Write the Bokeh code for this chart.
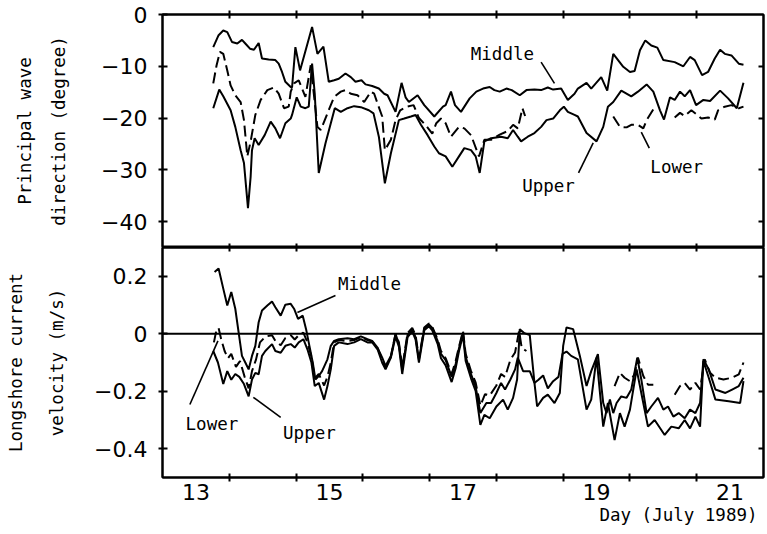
import math
from bokeh.plotting import figure
from bokeh.models import Range1d, LinearAxis, FixedTicker, Span, Label, Arrow, Title
from bokeh.layouts import column
from bokeh.embed import file_html
from bokeh.resources import INLINE

# ---------------- data ----------------
# Principal wave direction (degree) at the three sensors
mid_dir_day = [13.26, 13.34, 13.41, 13.47, 13.54, 13.62, 13.69, 13.74, 13.81, 13.87, 13.94, 13.99,
               14.09, 14.19, 14.24, 14.29, 14.34, 14.42, 14.44, 14.49, 14.56, 14.74, 14.82, 14.91,
               14.99, 15.07, 15.14, 15.24, 15.32, 15.39, 15.48, 15.54, 15.64, 15.74, 15.82, 15.87,
               15.99, 16.08, 16.14, 16.19, 16.32, 16.42, 16.57, 16.70, 16.74, 16.82, 16.88, 16.97,
               17.10, 17.20, 17.30, 17.40, 17.47, 17.55, 17.65, 17.73, 17.85, 17.95, 18.07, 18.17,
               18.27, 18.35, 18.47, 18.57, 18.67, 18.72, 18.85, 18.92, 19.07, 19.16, 19.25, 19.40,
               19.50, 19.57, 19.65, 19.73, 19.82, 19.91, 20.00, 20.17, 20.30, 20.40, 20.47, 20.58,
               20.67, 20.77, 20.85, 20.92, 21.02, 21.13, 21.20]
mid_dir = [-6.3, -4.0, -3.1, -3.4, -5.3, -5.6, -4.9, -5.6, -6.6, -6.8, -5.5, -8.5,
           -8.7, -8.8, -9.5, -11.1, -13.0, -14.0, -14.1, -6.3, -10.8, -2.4, -7.6, -6.2,
           -13.0, -12.7, -12.4, -11.4, -12.1, -13.0, -12.7, -13.5, -13.8, -14.3, -15.3, -15.6,
           -18.8, -13.2, -16.0, -16.9, -15.6, -17.5, -19.7, -17.8, -17.5, -14.9, -17.5, -18.8,
           -16.2, -14.9, -14.3, -14.0, -14.6, -14.9, -14.3, -14.6, -15.6, -14.6, -14.5, -14.6,
           -14.1, -14.5, -14.3, -16.5, -15.3, -14.3, -13.2, -14.3, -12.1, -14.7, -7.6, -10.1,
           -11.1, -10.9, -6.9, -5.0, -6.0, -6.4, -8.8, -9.2, -10.0, -8.2, -8.8, -11.7,
           -11.1, -8.5, -6.8, -7.6, -7.9, -9.5, -9.7]

upp_dir_day = [13.26, 13.35, 13.41, 13.52, 13.59, 13.67, 13.72, 13.78, 13.82, 13.84, 13.88, 13.94,
               14.03, 14.12, 14.19, 14.26, 14.34, 14.42, 14.44, 14.51, 14.57, 14.64, 14.69, 14.74,
               14.78, 14.84, 14.94, 15.08, 15.17, 15.27, 15.37, 15.47, 15.59, 15.66, 15.74, 15.83,
               15.92, 16.04, 16.12, 16.22, 16.29, 16.37, 16.47, 16.57, 16.64, 16.74, 16.84, 16.94,
               17.02, 17.12, 17.19, 17.25, 17.32, 17.42, 17.57, 17.67, 17.75, 17.82, 17.87, 17.97,
               18.07, 18.17, 18.25, 18.35, 18.45, 18.51, 18.57, 18.67, 18.72, 18.85, 19.00, 19.10,
               19.17, 19.25, 19.37, 19.52, 19.62, 19.75, 19.85, 19.95, 20.01, 20.10, 20.17, 20.25,
               20.32, 20.40, 20.49, 20.60, 20.70, 20.85, 20.97, 21.10, 21.20]
upp_dir = [-18.1, -14.5, -15.8, -18.5, -21.7, -26.2, -28.7, -37.4, -31.3, -26.2, -23.9, -25.2,
           -23.3, -20.7, -22.0, -23.9, -21.0, -20.1, -19.4, -16.0, -17.8, -18.1, -17.8, -9.5,
           -15.3, -30.6, -24.9, -18.1, -18.8, -18.1, -17.7, -17.9, -18.5, -19.1, -23.6, -32.6,
           -26.8, -20.4, -20.1, -19.7, -19.4, -21.3, -23.3, -25.5, -26.8, -27.4, -29.4, -27.4,
           -25.8, -26.2, -27.4, -30.6, -24.5, -23.9, -23.6, -23.9, -22.3, -23.6, -24.5, -23.6,
           -22.9, -21.7, -20.4, -20.1, -18.5, -17.8, -18.8, -19.4, -19.7, -22.9, -24.5, -21.7,
           -17.8, -16.9, -14.7, -15.8, -14.9, -13.5, -14.9, -18.5, -20.3, -16.0, -16.5, -14.9,
           -15.8, -14.6, -17.5, -16.5, -16.7, -14.7, -16.2, -18.1, -13.2]

low_dir_day = [13.26, 13.31, 13.36, 13.41, 13.47, 13.52, 13.59, 13.67, 13.72, 13.77, 13.82, 13.89,
               13.97, 14.07, 14.17, 14.24, 14.32, 14.39, 14.42, 14.47, 14.54, 14.64, 14.72, 14.76,
               14.82, 14.87, 14.97, 15.07, 15.17, 15.24, 15.32, 15.42, 15.52, 15.62, 15.67, 15.72,
               15.79, 15.83, 15.92, 15.99, 16.06, 16.16, 16.26, 16.34, 16.45, 16.54, 16.60, 16.67,
               16.74, 16.82, 16.94, 17.02, 17.12, 17.24, 17.32, 17.42, 17.55, 17.67, 17.75, 17.82,
               17.89, 17.93, 18.50,
               19.25, 19.35, 19.45, 19.52, 19.62, 19.70, 19.75, 19.85, 20.00,
               20.17, 20.25, 20.32, 20.42, 20.51, 20.57, 20.67, 20.77, 20.82, 20.92, 21.02, 21.13,
               21.20]
low_dir = [-13.3, -9.8, -7.2, -7.6, -10.8, -13.7, -15.6, -16.9, -20.4, -27.4, -24.5, -19.4,
           -16.5, -14.6, -14.1, -15.3, -18.1, -17.8, -14.9, -13.3, -12.7, -15.9, -9.8, -14.6,
           -21.7, -22.3, -19.1, -15.9, -14.9, -14.6, -15.3, -15.6, -16.9, -14.9, -15.3, -17.2,
           -19.7, -26.2, -24.2, -20.4, -18.5, -17.8, -17.5, -20.0, -21.5, -23.0, -21.0, -20.1,
           -21.0, -23.6, -21.7, -22.0, -23.3, -27.4, -24.2, -24.2, -23.2, -22.5, -21.3, -22.0,
           -18.1, -19.6, float("nan"),
           -19.7, -21.7, -21.8, -21.3, -21.3, -22.0, -20.4, -18.3, float("nan"),
           -19.9, -19.0, -19.6, -18.5, -19.4, -20.1, -19.9, -20.3, -18.5, -17.8, -17.5, -18.1,
           -17.8]

# Longshore current velocity (m/s) at the three sensors
mid_vel_day = [13.28, 13.34, 13.41, 13.47, 13.53, 13.59, 13.64, 13.69, 13.74, 13.79, 13.84, 13.89,
               13.94, 13.99, 14.07, 14.14, 14.19, 14.27, 14.34, 14.42, 14.47, 14.53, 14.60, 14.65,
               14.70, 14.75, 14.79, 14.84, 14.89, 14.97, 15.02, 15.07, 15.14, 15.27, 15.37, 15.47,
               15.57, 15.64, 15.72, 15.79, 15.84, 15.92, 15.99, 16.04, 16.09, 16.17, 16.24, 16.29,
               16.34, 16.42, 16.49, 16.54, 16.62, 16.67, 16.74, 16.83, 16.89, 16.94, 17.00, 17.04,
               17.12, 17.19, 17.26, 17.35, 17.42, 17.50, 17.57, 17.63, 17.71, 17.78, 17.82, 17.90,
               18.00, 18.07, 18.13, 18.20, 18.27, 18.35, 18.43, 18.49, 18.55, 18.62, 18.72, 18.85,
               18.92, 19.00, 19.10, 19.17, 19.27, 19.35, 19.42, 19.50, 19.60, 19.67, 19.77, 19.87,
               20.02, 20.12, 20.23, 20.32, 20.40, 20.48, 20.55, 20.60, 20.68, 20.78, 20.98, 21.15,
               21.20]
mid_vel = [0.215, 0.227, 0.157, 0.098, 0.145, 0.087, 0.005, -0.077, -0.100, -0.124, -0.077, -0.042,
           0.040, 0.081, 0.098, 0.112, 0.092, 0.063, 0.101, 0.104, 0.087, 0.052, 0.063, 0.016,
           -0.042, -0.100, -0.159, -0.147, -0.130, -0.089, -0.042, -0.025, -0.019, -0.016, -0.019, -0.009,
           -0.019, -0.025, -0.048, -0.083, -0.112, -0.077, -0.001, -0.035, -0.125, -0.004, 0.014, -0.012,
           -0.090, 0.018, 0.032, 0.020, -0.025, -0.070, -0.092, -0.150, -0.105, -0.050, 0.004, -0.080,
           -0.140, -0.185, -0.276, -0.241, -0.241, -0.206, -0.171, -0.194, -0.159, -0.124, -0.083, -0.130,
           -0.130, -0.171, -0.160, -0.145, -0.190, -0.165, -0.150, -0.070, -0.062, -0.077, -0.089, -0.264,
           -0.229, -0.083, -0.323, -0.241, -0.370, -0.276, -0.323, -0.264, -0.124, -0.206, -0.323, -0.300,
           -0.352, -0.323, -0.329, -0.300, -0.329, -0.288, -0.323, -0.095, -0.153, -0.229, -0.235, -0.241,
           -0.165]

upp_vel_day = [13.26, 13.33, 13.41, 13.47, 13.53, 13.59, 13.65, 13.72, 13.79, 13.84, 13.89, 13.94,
               13.99, 14.04, 14.14, 14.19, 14.27, 14.34, 14.42, 14.48, 14.54, 14.61, 14.67, 14.73,
               14.78, 14.84, 14.92, 14.97, 15.02, 15.07, 15.14, 15.27, 15.37, 15.47, 15.57, 15.64,
               15.72, 15.79, 15.84, 15.92, 15.99, 16.04, 16.09, 16.17, 16.24, 16.29, 16.34, 16.42,
               16.49, 16.54, 16.62, 16.67, 16.74, 16.83, 16.89, 16.94, 17.00, 17.04, 17.12, 17.19,
               17.26, 17.32, 17.40, 17.50, 17.60, 17.67, 17.75, 17.81, 17.85, 17.92, 18.00, 18.07,
               18.11, 18.20, 18.27, 18.37, 18.45, 18.50, 18.55, 18.65, 18.75, 18.85, 18.92, 19.02,
               19.10, 19.15, 19.20, 19.25, 19.30, 19.37, 19.45, 19.52, 19.61, 19.67, 19.75, 19.82,
               19.92, 20.00, 20.07, 20.15, 20.23, 20.32, 20.40, 20.48, 20.55, 20.60, 20.68, 20.78,
               20.93, 21.03, 21.13, 21.20]
upp_vel = [-0.060, -0.100, -0.175, -0.130, -0.160, -0.140, -0.150, -0.175, -0.218, -0.159, -0.136, -0.141,
           -0.077, -0.060, -0.036, -0.060, -0.066, -0.042, -0.036, -0.048, -0.030, -0.019, -0.054, -0.100,
           -0.182, -0.171, -0.229, -0.182, -0.124, -0.042, -0.030, -0.036, -0.030, -0.019, -0.030, -0.030,
           -0.054, -0.101, -0.124, -0.083, -0.010, -0.045, -0.140, -0.012, 0.008, -0.020, -0.100, 0.012,
           0.026, 0.012, -0.035, -0.085, -0.110, -0.168, -0.120, -0.060, -0.004, -0.095, -0.155, -0.200,
           -0.317, -0.282, -0.294, -0.253, -0.229, -0.264, -0.223, -0.159, 0.016, 0.002, -0.005, -0.171,
           -0.253, -0.223, -0.212, -0.241, -0.206, -0.042, 0.022, 0.016, -0.077, -0.182, -0.130, -0.071,
           -0.241, -0.276, -0.229, -0.276, -0.241, -0.218, -0.223, -0.194, -0.083, -0.159, -0.276, -0.253,
           -0.223, -0.264, -0.253, -0.288, -0.276, -0.294, -0.264, -0.276, -0.241, -0.089, -0.124, -0.194,
           -0.206, -0.194, -0.182, -0.153]

low_vel_day = [13.27, 13.31, 13.34, 13.38, 13.43, 13.48, 13.53, 13.60, 13.66, 13.73, 13.79, 13.84,
               13.90, 13.96, 14.04, 14.14, 14.19, 14.27, 14.34, 14.42, 14.48, 14.54, 14.61, 14.67,
               14.73, 14.78, 14.84, 14.92, 14.97, 15.02, 15.07, 15.14, 15.27, 15.37, 15.47, 15.57,
               15.64, 15.72, 15.79, 15.84, 15.92, 15.99, 16.04, 16.09, 16.17, 16.24, 16.29, 16.34,
               16.42, 16.49, 16.54, 16.62, 16.67, 16.74, 16.83, 16.89, 16.94, 17.00, 17.04, 17.12,
               17.19, 17.26, 17.33, 17.40, 17.50, 17.57, 17.63, 17.71, 17.78, 17.84, 17.88, 17.95,
               18.50,
               19.27, 19.35, 19.42, 19.50, 19.57, 19.62, 19.70, 19.77, 19.85, 20.00,
               20.17, 20.25, 20.32, 20.40, 20.48, 20.55, 20.62, 20.70, 20.78, 20.90, 21.03, 21.13,
               21.20]
low_vel = [-0.030, 0.016, 0.020, -0.020, -0.060, -0.085, -0.070, -0.115, -0.095, -0.150, -0.190, -0.130,
           -0.090, -0.030, -0.010, -0.005, -0.025, -0.040, -0.015, -0.005, -0.020, -0.005, 0.004, -0.030,
           -0.080, -0.155, -0.140, -0.180, -0.150, -0.100, -0.030, -0.022, -0.025, -0.022, -0.012, -0.022,
           -0.027, -0.050, -0.090, -0.118, -0.080, 0.000, -0.030, -0.118, 0.002, 0.020, -0.005, -0.085,
           0.022, 0.036, 0.024, -0.020, -0.060, -0.085, -0.140, -0.095, -0.045, 0.010, -0.070, -0.130,
           -0.170, -0.250, -0.210, -0.215, -0.180, -0.140, -0.150, -0.090, -0.065, 0.010, -0.050, -0.060,
           float("nan"),
           -0.182, -0.136, -0.153, -0.165, -0.141, -0.083, -0.147, -0.177, -0.177, float("nan"),
           -0.212, -0.182, -0.171, -0.194, -0.171, -0.194, -0.089, -0.136, -0.153, -0.159, -0.153, -0.141,
           -0.100]

# ticks
day_labels = [13, 15, 17, 19, 21]
day_edges = [13.5, 14.5, 15.5, 16.5, 17.5, 18.5, 19.5, 20.5]
dir_ticks = [0, -10, -20, -30, -40]
vel_ticks = [0.2, 0, -0.2, -0.4]

# ---------------- styling ----------------
TICK_FONT = "DejaVu Sans"
TEXT_FONT = "DejaVu Sans Mono"
TEXT_SIZE = "17.5px"
LW = 2
DASH = "11 5"


def minus(s):
    return s.replace("-", "\u2212")


def frame_style(p):
    p.outline_line_color = "black"
    p.outline_line_width = LW
    p.background_fill_color = "white"
    p.border_fill_color = "white"
    p.xgrid.visible = False
    p.ygrid.visible = False


def left_axis(ax, ticks, fmt, title, spacing, standoff):
    ax.ticker = FixedTicker(ticks=ticks)
    ax.major_label_overrides = {t: minus(fmt(t)) for t in ticks}
    ax.major_label_text_font = TICK_FONT
    ax.major_label_text_font_size = "22px"
    ax.major_label_text_color = "black"
    ax.major_tick_in = 5
    ax.major_tick_out = 4
    ax.major_tick_line_width = LW
    ax.minor_tick_line_color = None
    ax.axis_line_width = LW
    ax.major_label_standoff = 11
    ax.axis_label = title
    ax.axis_label_text_font = TEXT_FONT
    ax.axis_label_text_font_size = TEXT_SIZE
    ax.axis_label_text_font_style = "normal"
    ax.axis_label_text_color = "black"
    ax.axis_label_text_line_height = spacing
    ax.axis_label_standoff = standoff


def tick_only_axis(minor, tin, tout, **kw):
    return LinearAxis(ticker=FixedTicker(ticks=[], minor_ticks=minor),
                      minor_tick_in=tin, minor_tick_out=tout,
                      minor_tick_line_width=LW, major_tick_line_color=None,
                      axis_line_width=LW, major_label_standoff=0,
                      major_label_text_font_size="0px", **kw)


def text(p, x, y, s):
    p.add_layout(Label(x=x, y=y, text=s, text_font=TEXT_FONT, text_font_size=TEXT_SIZE,
                       text_align="center", text_baseline="middle", text_color="black"))


def leader(p, x0, y0, x1, y1):
    p.add_layout(Arrow(end=None, x_start=x0, y_start=y0, x_end=x1, y_end=y1,
                       line_width=1.6, line_color="black"))


x_range = Range1d(12.5, 21.5)

# ---------------- upper panel: wave direction ----------------
top = figure(width=767, height=247, x_range=x_range, y_range=Range1d(-45, 0),
             x_axis_location=None, output_backend="svg", toolbar_location=None,
             min_border_left=162, min_border_right=4, min_border_top=14, min_border_bottom=0)
frame_style(top)
left_axis(top.yaxis[0], dir_ticks, lambda t: str(t),
          "Principal wave\ndirection (degree)", 1.71, 29)
top.add_layout(tick_only_axis(dir_ticks[1:], 5, 0), "right")
top.add_layout(tick_only_axis(day_edges, 4, 4), "above")
top.add_layout(tick_only_axis(day_edges, 4, 0, fixed_location=-45), "below")

top.line(mid_dir_day, mid_dir, line_color="black", line_width=LW)
top.line(upp_dir_day, upp_dir, line_color="black", line_width=LW)
top.line(low_dir_day, low_dir, line_color="black", line_width=LW, line_dash=DASH)

text(top, 17.59, -7.6, "Middle")
leader(top, 18.17, -9.2, 18.37, -13.3)
text(top, 18.28, -33.1, "Upper")
leader(top, 18.73, -30.6, 18.95, -24.8)
text(top, 20.20, -29.4, "Lower")
leader(top, 19.79, -25.8, 19.67, -22.7)

# ---------------- lower panel: longshore current ----------------
bot = figure(width=767, height=287, x_range=x_range, y_range=Range1d(-0.5, 0.3),
             x_axis_location=None, output_backend="svg", toolbar_location=None,
             min_border_left=162, min_border_right=4, min_border_top=0, min_border_bottom=57)
frame_style(bot)
left_axis(bot.yaxis[0], vel_ticks, lambda t: "0" if t == 0 else f"{t:.1f}",
          "Longshore current\nvelocity (m/s)", 2.05, 24)
bot.add_layout(tick_only_axis([0.2, -0.2, -0.4], 5, 0), "right")
bot.add_layout(tick_only_axis(day_edges, 4, 0, fixed_location=0.3), "above")

day_axis = LinearAxis(ticker=FixedTicker(ticks=day_labels, minor_ticks=day_edges),
                      major_tick_in=0, major_tick_out=0,
                      minor_tick_in=4, minor_tick_out=4, minor_tick_line_width=LW,
                      axis_line_width=LW, major_label_text_font=TICK_FONT,
                      major_label_text_font_size="22px", major_label_text_color="black",
                      major_label_standoff=2)
bot.add_layout(day_axis, "below")
bot.add_layout(Title(text="Day (July 1989)", align="right", offset=6, standoff=0,
                     text_font=TEXT_FONT, text_font_size=TEXT_SIZE,
                     text_font_style="normal", text_color="black"), "below")

bot.add_layout(Span(location=0, dimension="width", line_color="black", line_width=LW))

bot.line(mid_vel_day, mid_vel, line_color="black", line_width=LW)
bot.line(upp_vel_day, upp_vel, line_color="black", line_width=LW)
bot.line(low_vel_day, low_vel, line_color="black", line_width=LW, line_dash=DASH)

text(bot, 15.60, 0.172, "Middle")
leader(bot, 15.09, 0.133, 14.52, 0.074)
text(bot, 13.24, -0.314, "Lower")
leader(bot, 12.91, -0.246, 13.33, -0.025)
text(bot, 14.70, -0.344, "Upper")
leader(bot, 14.27, -0.291, 13.86, -0.221)

layout = column(top, bot, spacing=0)
open("out.html", "w").write(file_html(layout, INLINE))
